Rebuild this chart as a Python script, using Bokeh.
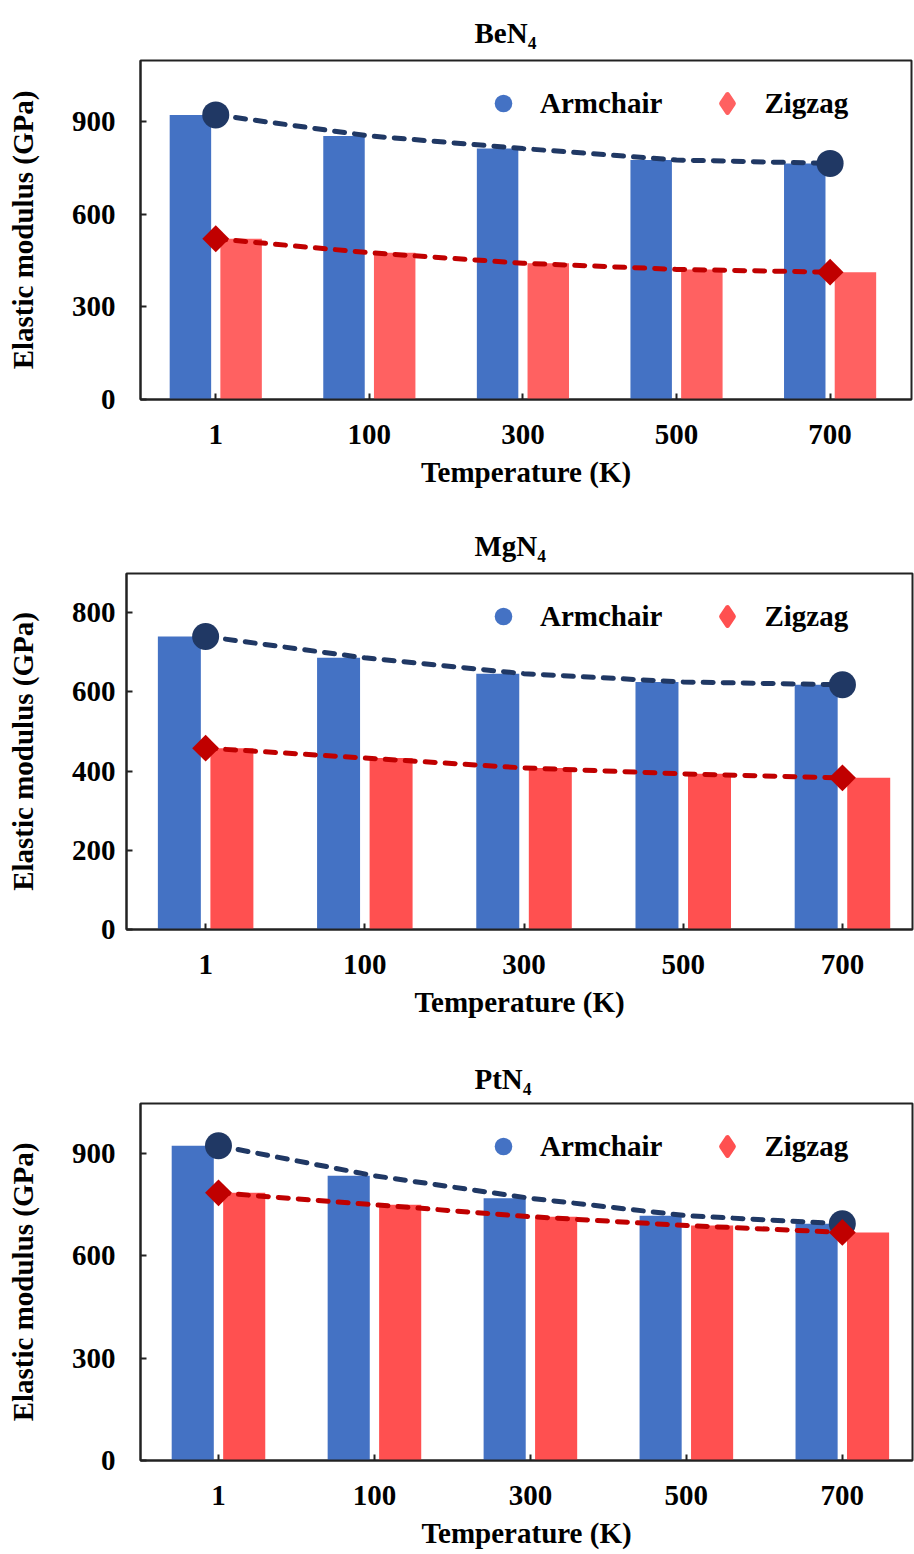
import math
from bokeh.plotting import figure
from bokeh.models import (Range1d, FixedTicker, Legend, LegendItem, Title,
                          ColumnDataSource)
from bokeh.embed import file_html
from bokeh.resources import INLINE

# ---------------- data ----------------
temps = ["1", "100", "300", "500", "700"]

titles = ["BeN₄", "MgN₄", "PtN₄"]

ben4_armchair = [921, 853, 812, 775, 764]
ben4_zigzag = [520, 475, 441, 421, 412]

mgn4_armchair = [740, 686, 646, 625, 618]
mgn4_zigzag = [458, 433, 408, 393, 383]

ptn4_armchair = [923, 835, 769, 718, 694]
ptn4_zigzag = [785, 750, 715, 689, 669]

yticks_ben4 = [0, 300, 600, 900]
yticks_mgn4 = [0, 200, 400, 600, 800]
yticks_ptn4 = [0, 300, 600, 900]

# ---------------- style ----------------
FONT = "Liberation Serif"
BLUE = "#4472C4"
NAVY = "#203864"
DARKRED = "#C00000"
FS = "29px"

panels = [
    dict(name=titles[0], arm=ben4_armchair, zig=ben4_zigzag, ticks=yticks_ben4,
         ymax=1097, xr=(-0.49, 4.53), left=140, fw=771, right=3,
         top=60, fh=339, bottom=106, red="#FF6161", ystand=25, tstand=24),
    dict(name=titles[1], arm=mgn4_armchair, zig=mgn4_zigzag, ticks=yticks_mgn4,
         ymax=899, xr=(-0.497, 4.44), left=126, fw=786, right=2,
         top=68, fh=356, bottom=111, red="#FF5050", ystand=11, tstand=23),
    dict(name=titles[2], arm=ptn4_armchair, zig=ptn4_zigzag, ticks=yticks_ptn4,
         ymax=1047, xr=(-0.50, 4.45), left=140, fw=772, right=2,
         top=63, fh=357, bottom=94, red="#FF5050", ystand=25, tstand=17),
]

OFF = 0.165
BW = 0.27


def make_panel(cfg):
    p = figure(frame_width=cfg["fw"], frame_height=cfg["fh"],
               min_border_left=cfg["left"], min_border_right=cfg["right"],
               min_border_top=cfg["top"], min_border_bottom=cfg["bottom"],
               x_range=Range1d(*cfg["xr"]), y_range=Range1d(0, cfg["ymax"]),
               output_backend="svg", toolbar_location=None, tools="")
    p.background_fill_color = "white"
    p.border_fill_color = "white"
    p.outline_line_color = "#222222"
    p.outline_line_width = 2
    p.grid.visible = False

    p.title = Title(text=cfg["name"], align="left", offset=474 - cfg["left"],
                    text_font=FONT, text_font_style="bold", text_font_size=FS,
                    text_color="black", standoff=cfg["tstand"])

    idx = list(range(len(temps)))
    src = ColumnDataSource(dict(
        x=idx,
        xa=[i - OFF for i in idx],
        xz=[i + OFF for i in idx],
        arm=cfg["arm"], zig=cfg["zig"]))

    p.vbar(x="xa", top="arm", width=BW, bottom=0, source=src,
           fill_color=BLUE, line_color=None)
    p.vbar(x="xz", top="zig", width=BW, bottom=0, source=src,
           fill_color=cfg["red"], line_color=None)

    p.line(x="x", y="arm", source=src, line_color=NAVY, line_width=5,
           line_dash="10 10", line_cap="round")
    p.line(x="x", y="zig", source=src, line_color=DARKRED, line_width=5,
           line_dash="10 10", line_cap="round")

    ends = ColumnDataSource(dict(
        x=[idx[0], idx[-1]],
        arm=[cfg["arm"][0], cfg["arm"][-1]],
        zig=[cfg["zig"][0], cfg["zig"][-1]]))
    p.scatter(x="x", y="arm", source=ends, marker="circle", size=27,
              fill_color=NAVY, line_color=None)
    p.scatter(x="x", y="zig", source=ends, marker="square", size=19,
              angle=math.pi / 4, fill_color=DARKRED, line_color=None)

    # legend-only renderers (no visible data point)
    nan = float("nan")
    r_a = p.scatter(x=[nan], y=[nan], marker="circle",
                    fill_color=BLUE, line_color=None)
    r_z = p.scatter(x=[nan], y=[nan], marker="diamond",
                    fill_color=cfg["red"], line_color=cfg["red"],
                    line_width=5, line_join="round")
    legend = Legend(items=[LegendItem(label="Armchair", renderers=[r_a]),
                           LegendItem(label="Zigzag", renderers=[r_z])],
                    orientation="horizontal",
                    location=(481 - cfg["left"], cfg["fh"] - 65),
                    glyph_width=44, glyph_height=44, label_standoff=15,
                    spacing=43, padding=0, margin=0,
                    border_line_color=None, background_fill_alpha=0,
                    label_text_font=FONT, label_text_font_style="bold",
                    label_text_font_size=FS, label_text_color="black")
    p.add_layout(legend)

    # axes
    for ax in (p.xaxis[0], p.yaxis[0]):
        ax.axis_line_width = 2
        ax.axis_line_color = "#222222"
        ax.major_tick_line_width = 2
        ax.major_tick_line_color = "#222222"
        ax.major_tick_in = 6
        ax.major_tick_out = 0
        ax.minor_tick_line_color = None
        ax.major_label_text_font = FONT
        ax.major_label_text_font_style = "bold"
        ax.major_label_text_color = "black"
        ax.major_label_text_font_size = FS
        ax.axis_label_text_font = FONT
        ax.axis_label_text_font_style = "bold"
        ax.axis_label_text_color = "black"
        ax.axis_label_text_font_size = FS

    p.xaxis.ticker = FixedTicker(ticks=idx)
    p.xaxis.major_label_overrides = {i: t for i, t in enumerate(temps)}
    p.xaxis.major_label_standoff = 25
    p.xaxis.axis_label = "Temperature (K)"
    p.xaxis.axis_label_standoff = 9

    p.yaxis.ticker = FixedTicker(ticks=cfg["ticks"])
    p.yaxis.major_label_standoff = cfg["ystand"]
    p.yaxis.axis_label = "Elastic modulus (GPa)"
    p.yaxis.axis_label_standoff = 30
    return p


figs = [make_panel(c) for c in panels]

open("out.html", "w").write(file_html(figs, INLINE))
